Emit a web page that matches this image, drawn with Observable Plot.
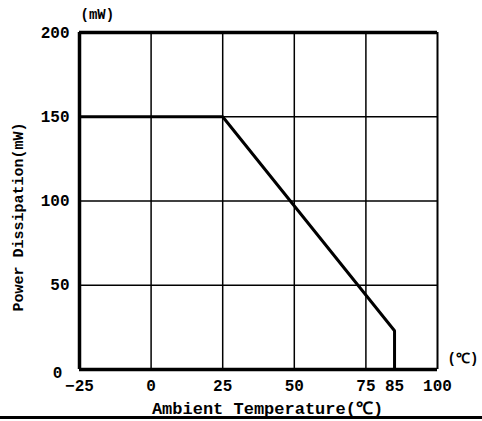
<!DOCTYPE html>
<html><head><meta charset="utf-8">
<script src="https://cdn.jsdelivr.net/npm/d3@7"></script>
<script src="https://cdn.jsdelivr.net/npm/@observablehq/plot@0.6"></script>
<style>
html,body{margin:0;padding:0;background:#fff;}
#wrap{position:relative;width:482px;height:421px;overflow:hidden;}
#rule{position:absolute;left:0;top:416px;width:482px;height:3px;background:#000;}
</style>
</head><body>
<div id="wrap"><div id="chart"></div><div id="rule"></div></div>
<script>
const temps = [-25, 25, 85, 85];
const power = [150, 150, 23, 0];
const xTicks = [-25, 0, 25, 50, 75, 85, 100];
const xGrid = [0, 25, 50, 75];
const yTicks = [50, 100, 150, 200];
const yGrid = [50, 100, 150];
const xTitle = "Ambient Temperature(℃)";
const yTitle = "Power Dissipation(mW)";
const yUnit = "(mW)";
const xUnit = "(℃)";

const data = temps.map((t, i) => ({t, p: power[i]}));
const font = "Liberation Mono, monospace";

const plot = Plot.plot({
  width: 482, height: 421,
  marginLeft: 79, marginRight: 45, marginTop: 32, marginBottom: 52,
  style: {fontFamily: font, fontWeight: "bold", fontSize: "16px", background: "#fff", color: "#000"},
  x: {domain: [-25, 100], axis: null},
  y: {domain: [0, 200], axis: null},
  marks: [
    Plot.ruleX(xGrid, {stroke: "#000", strokeWidth: 1.5}),
    Plot.ruleY(yGrid, {stroke: "#000", strokeWidth: 1.5}),
    Plot.ruleX([100], {stroke: "#000", strokeWidth: 2}),
    Plot.ruleX([-25], {stroke: "#000", strokeWidth: 3.5}),
    Plot.ruleY([0], {stroke: "#000", strokeWidth: 3.5}),
    Plot.ruleY([200], {stroke: "#000", strokeWidth: 3.5}),
    Plot.line(data, {x: "t", y: "p", stroke: "#000", strokeWidth: 3, strokeLinejoin: "miter"}),
    Plot.axisX(xTicks, {tickSize: 0, tickPadding: 10, fontSize: 16, fontWeight: "bold", label: null}),
    Plot.axisY(yTicks, {tickSize: 0, tickPadding: 10, fontSize: 16, fontWeight: "bold", label: null}),
    Plot.text([0], {x: -25, y: d => d, text: d => String(d), dx: -22, dy: 3, fontSize: 16, fontWeight: "bold", textAnchor: "middle"}),
    Plot.text([yUnit], {x: -25, y: 200, text: d => d, dy: -18, dx: 1, textAnchor: "start", fontSize: 14}),
    Plot.text([xUnit], {x: 100, y: 0, text: d => d, dx: 10, dy: -11, textAnchor: "start", fontSize: 14}),
    Plot.text([xTitle], {x: 37.5, y: 0, text: d => d, dx: 9, dy: 39, fontSize: 17, frameAnchor: "middle"}),
    Plot.text([yTitle], {x: -25, y: 100, text: d => d, dx: -61, dy: 16, rotate: -90, fontSize: 15})
  ]
});
document.getElementById("chart").appendChild(plot);
</script>
</body></html>
